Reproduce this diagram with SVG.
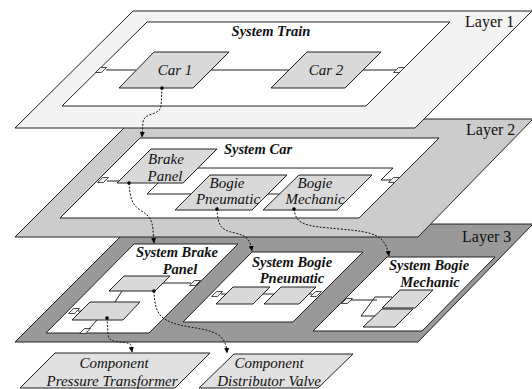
<svg xmlns="http://www.w3.org/2000/svg" width="532" height="389" viewBox="0 0 532 389">
<style>
.ly{stroke:#222;stroke-width:1}
.pn{fill:#fff;stroke:#222;stroke-width:1}
.bx{fill:#d9d9d9;stroke:#222;stroke-width:1}
.cp{fill:#e0e0e0;stroke:#222;stroke-width:1}
.pt{fill:#eee;stroke:#222;stroke-width:0.8}
.ln{fill:none;stroke:#222;stroke-width:1}
.dl{fill:none;stroke:#111;stroke-width:1;stroke-dasharray:2 1.5}
.dot{fill:#000}
text{font-family:"Liberation Serif","Times New Roman",serif;fill:#111}
.lb{font-size:16px}
.t{font-size:15px;font-style:italic;text-anchor:middle}
.s{font-size:14.5px;font-style:italic;font-weight:bold;text-anchor:middle}
</style>
<defs>
<polygon id="port" points="-0.5,-2.5 5.5,-2.5 0.5,2.5 -5.5,2.5"/>
<marker id="ah" markerWidth="6" markerHeight="6" refX="5" refY="3" orient="auto" markerUnits="userSpaceOnUse">
<path d="M0,0.5 L5.5,3 L0,5.5 Z" fill="#000"/>
</marker>
</defs>

<g id="layer3">
<polygon class="ly" fill="#999999" points="133,224 533,224 418,342 15,342"/>
<text class="lb" x="462" y="242">Layer 3</text>
</g>
<g id="system-brake-panel">
<polygon class="pn" points="134,244 238,244 149,333 46,333"/>
<text class="s" x="177" y="257">System Brake</text>
<text class="s" x="180" y="274">Panel</text>
<polygon class="bx" points="124,276 170,276 155,291 109,291"/>
<polygon class="bx" points="90,302 140,302 123,320 72,320"/>
<polyline class="ln" points="163,283 191,283"/>
<polyline class="ln" points="122,291 115,302"/>
<polyline class="ln" points="78,311 81,311"/>
<polyline class="ln" points="97,320 89,329"/>
<use href="#port" class="pt" x="195" y="283"/>
<use href="#port" class="pt" x="74" y="311"/>
<use href="#port" class="pt" x="85" y="331"/>
</g>
<g id="system-bogie-pneumatic">
<polygon class="pn" points="252,252 363,252 293,322 183,322"/>
<text class="s" x="292" y="267">System Bogie</text>
<text class="s" x="292" y="283">Pneumatic</text>
<polygon class="bx" points="233,287 270,287 253,304 216,304"/>
<polygon class="bx" points="281,287 316,287 299,304 264,304"/>
<polyline class="ln" points="221,294 226,294"/>
<polyline class="ln" points="263,294 274,294"/>
<polyline class="ln" points="309,294 312,294"/>
<use href="#port" class="pt" x="217" y="294"/>
<use href="#port" class="pt" x="316" y="294"/>
</g>
<g id="system-bogie-mechanic">
<polygon class="pn" points="387,257 495,257 422,331 313,331"/>
<text class="s" x="429" y="270">System Bogie</text>
<text class="s" x="430" y="287">Mechanic</text>
<polyline class="ln" points="351,300 377,300"/>
<polyline class="ln" points="392,297 375,297 361,316 378,316"/>
<polygon class="bx" points="400,290 433,290 415,308 382,308"/>
<polygon class="bx" points="382,309 413,309 395,327 363,327"/>
<use href="#port" class="pt" x="347" y="301"/>
</g>

<g id="layer2">
<polygon class="ly" fill="#cccccc" points="133,119 533,119 418,237 15,237"/>
<text class="lb" x="466" y="135">Layer 2</text>
</g>
<g id="system-car">
<polygon class="pn" points="140,138 439,138 359,218 60,218"/>
<text class="s" x="258" y="154">System Car</text>
<polyline class="ln" points="198,168 393,168 381,180 391,180"/>
<polyline class="ln" points="158,183 147,194 191,194"/>
<polyline class="ln" points="268,194 281,194"/>
<polyline class="ln" points="107,181 119,181"/>
<use href="#port" class="pt" x="103" y="180"/>
<use href="#port" class="pt" x="394" y="180"/>
</g>
<g id="brake-panel">
<polygon class="bx" points="151,149 217,149 183,183 117,183"/>
<text class="t" x="166" y="164">Brake</text>
<text class="t" x="165" y="181">Panel</text>
</g>
<g id="bogie-pneumatic">
<polygon class="bx" points="210,175 287,175 252,210 175,210"/>
<text class="t" x="227" y="188">Bogie</text>
<text class="t" x="228" y="204">Pneumatic</text>
</g>
<g id="bogie-mechanic">
<polygon class="bx" points="299,175 372,175 337,210 263,210"/>
<text class="t" x="315" y="188">Bogie</text>
<text class="t" x="315" y="204">Mechanic</text>
</g>

<g id="layer1">
<polygon class="ly" fill="#f3f3f3" points="133,11 532,11 415,128 15,128"/>
<text class="lb" x="465" y="27">Layer 1</text>
</g>
<g id="system-train">
<polygon class="pn" points="147,22 450,22 366,106 62,106"/>
<text class="s" x="271" y="36">System Train</text>
<polyline class="ln" points="106,70 136,70"/>
<polyline class="ln" points="211,70 289,70"/>
<polyline class="ln" points="363,70 396,70"/>
<use href="#port" class="pt" x="101" y="70"/>
<use href="#port" class="pt" x="399" y="70"/>
</g>
<g id="car1">
<polygon class="bx" points="154,52 229,52 193,88 119,88"/>
<text class="t" x="175" y="75">Car 1</text>
</g>
<g id="car2">
<polygon class="bx" points="307,52 381,52 345,88 271,88"/>
<text class="t" x="326" y="75">Car 2</text>
</g>

<g id="component-pressure-transformer">
<polygon class="cp" points="55,353 210,353 175,388 20,388"/>
<text class="t" x="114" y="368">Component</text>
<text class="t" x="112" y="386">Pressure Transformer</text>
</g>
<g id="component-distributor-valve">
<polygon class="cp" points="234,354 353,354 318,388 199,388"/>
<text class="t" x="269" y="368">Component</text>
<text class="t" x="269" y="386">Distributor Valve</text>
</g>

<g id="connectors">
<path class="dl" marker-end="url(#ah)" d="M162,88 L161,106 C160,116 144,112 143,122 L142,137"/>
<path class="dl" marker-end="url(#ah)" d="M129,183 C130,200 133,205 140,210 C150,216 152,220 153,230 L154,243"/>
<path class="dl" marker-end="url(#ah)" d="M217,209 C218,225 220,230 235,233 C248,236 250,240 252,251"/>
<path class="dl" marker-end="url(#ah)" d="M294,209 C296,225 305,226 340,229 C375,232 385,235 389,256"/>
<path class="dl" marker-end="url(#ah)" d="M107,318 L108,335 C109,345 128,340 131,345 L132,352"/>
<path class="dl" marker-end="url(#ah)" d="M154,291 C155,315 160,322 190,327 C215,331 226,334 227,353"/>
<circle class="dot" cx="162" cy="88" r="1.8"/>
<circle class="dot" cx="129" cy="183" r="1.8"/>
<circle class="dot" cx="217" cy="209" r="1.8"/>
<circle class="dot" cx="294" cy="209" r="1.8"/>
<circle class="dot" cx="107" cy="318" r="1.8"/>
<circle class="dot" cx="154" cy="291" r="1.8"/>
</g>
</svg>
